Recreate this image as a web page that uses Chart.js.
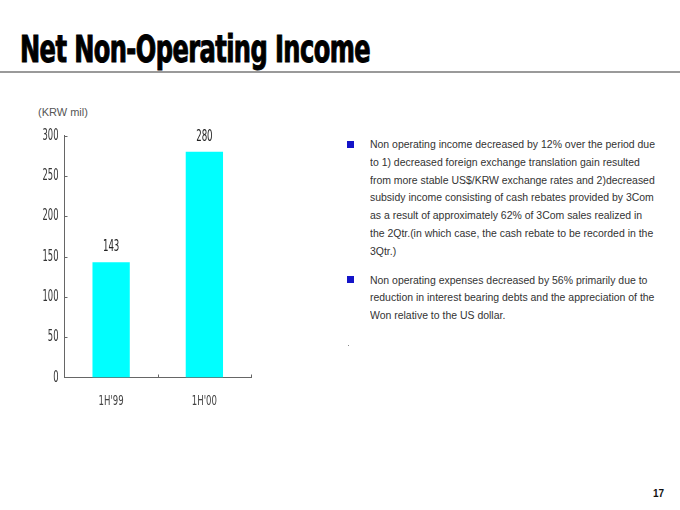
<!DOCTYPE html>
<html>
<head>
<meta charset="utf-8">
<script src="https://cdn.jsdelivr.net/npm/chart.js@4.4.0/dist/chart.umd.min.js"></script>
<style>
  html, body { margin: 0; padding: 0; background: #fff; }
  body { width: 680px; height: 510px; position: relative; overflow: hidden; font-family: 'Liberation Sans', Arial, sans-serif; }
  #title { position: absolute; left: 20px; top: 31px; font-family: 'DejaVu Sans Condensed', 'DejaVu Sans', sans-serif; font-weight: bold; font-size: 37px; line-height: 1; color: #000; white-space: nowrap; transform-origin: left top; letter-spacing: -0.8px; -webkit-text-stroke: 1px #000; }
  #rule { position: absolute; left: 0; top: 71px; width: 680px; height: 2px; background: #9a9a9a; }
  #unit { position: absolute; left: 38px; top: 105px; font-size: 11px; line-height: 14px; color: #555; }
  #chartBox { position: absolute; left: 0; top: 100px; width: 300px; height: 330px; }
  .para { position: absolute; left: 370px; font-size: 11px; line-height: 17.8px; color: #333; white-space: nowrap; transform-origin: left top; }
  .bullet { position: absolute; left: 347px; width: 7px; height: 7px; background: #1414c8; }
  #dot { position: absolute; left: 348px; top: 345px; width: 1px; height: 1px; background: #888; }
  #page { position: absolute; left: 653px; top: 488px; font-size: 10px; font-weight: bold; color: #111; }
</style>
</head>
<body>
<div id="title">Net Non-Operating Income</div>
<div id="rule"></div>
<div id="unit">(KRW mil)</div>
<div id="chartBox"><canvas id="incomeChart"></canvas></div>

<div class="bullet" style="top:141px"></div>
<div class="para" id="p1" style="top:136px">
  <div>Non operating income decreased by 12% over the period due</div>
  <div>to 1) decreased foreign exchange translation gain resulted</div>
  <div>from more stable US$/KRW exchange rates and 2)decreased</div>
  <div>subsidy income consisting of cash rebates provided by 3Com</div>
  <div>as a result of approximately 62% of 3Com sales realized in</div>
  <div>the 2Qtr.(in which case, the cash rebate to be recorded in the</div>
  <div>3Qtr.)</div>
</div>
<div class="bullet" style="top:276px"></div>
<div class="para" id="p2" style="top:271.5px">
  <div>Non operating expenses decreased by 56% primarily due to</div>
  <div>reduction in interest bearing debts and the appreciation of the</div>
  <div>Won relative to the US dollar.</div>
</div>
<div id="dot"></div>
<div id="page">17</div>

<script>
// Chart data
const periods = ["1H'99", "1H'00"];
const incomeValues = [143, 280];
const yTicks = [0, 50, 100, 150, 200, 250, 300];

const narrowFont = "'Liberation Sans Narrow', 'DejaVu Sans Condensed', sans-serif";

// squeeze title and paragraphs to the widths in the slide
function fitWidth(el, target) {
    const w = el.getBoundingClientRect().width;
    el.style.transform = 'scaleX(' + (target / w) + ')';
}
fitWidth(document.getElementById('title'), 350);
const firstLine = document.querySelector('#p1 div');
const lineScale = 285 / firstLine.getBoundingClientRect().width;
document.getElementById('p1').style.transform = 'scaleX(' + lineScale + ')';
document.getElementById('p2').style.transform = 'scaleX(' + lineScale + ')';

function squeezedText(ctx, text, x, y, sx) {
    ctx.save();
    ctx.translate(x, y);
    ctx.scale(sx, 1);
    ctx.fillText(text, 0, 0);
    ctx.restore();
}

// ticks point inward and labels use a narrow face, so draw them here
const axisDecor = {
    id: 'axisDecor',
    afterDraw(chart) {
        const ctx = chart.ctx;
        const xs = chart.scales.x;
        const ys = chart.scales.y;
        ctx.save();
        ctx.strokeStyle = '#666';
        ctx.lineWidth = 1;
        ctx.fillStyle = '#333';
        ctx.textBaseline = 'middle';

        // y axis
        ctx.font = '15px ' + narrowFont;
        ctx.textAlign = 'right';
        yTicks.forEach(v => {
            const py = Math.round(ys.getPixelForValue(v)) + 0.5;
            if (v > 0) {
                ctx.beginPath();
                ctx.moveTo(xs.left, py);
                ctx.lineTo(xs.left + 3, py);
                ctx.stroke();
            }
            squeezedText(ctx, String(v), xs.left - 6, py, 0.62);
        });

        // x axis
        ctx.textAlign = 'center';
        ctx.font = '14px ' + narrowFont;
        ctx.fillStyle = '#444';
        periods.forEach((p, i) => {
            const px = xs.getPixelForValue(i);
            squeezedText(ctx, p, px, ys.bottom + 24, 0.68);
            const edge = i < periods.length - 1 ? (px + xs.getPixelForValue(i + 1)) / 2 : xs.right;
            const ex = Math.round(edge) + 0.5;
            ctx.beginPath();
            ctx.moveTo(ex, ys.bottom);
            ctx.lineTo(ex, ys.bottom - 3);
            ctx.stroke();
        });

        // values above bars
        ctx.font = '16px ' + narrowFont;
        ctx.fillStyle = '#222';
        chart.getDatasetMeta(0).data.forEach((bar, i) => {
            squeezedText(ctx, String(incomeValues[i]), bar.x, bar.y - 15, 0.6);
        });
        ctx.restore();
    }
};

new Chart(document.getElementById('incomeChart'), {
    type: 'bar',
    data: {
        labels: periods,
        datasets: [{
            data: incomeValues,
            backgroundColor: '#00ffff',
            borderWidth: 0,
            categoryPercentage: 1,
            barPercentage: 0.4
        }]
    },
    options: {
        responsive: true,
        maintainAspectRatio: false,
        animation: false,
        layout: { padding: { left: 0, top: 35.5, right: 49, bottom: 0 } },
        scales: {
            x: {
                grid: { display: false },
                border: { display: true, color: '#666', width: 1 },
                ticks: { display: false },
                afterFit: s => { s.height = 52.5; }
            },
            y: {
                min: 0,
                max: 300,
                grid: { display: false },
                border: { display: true, color: '#666', width: 1 },
                ticks: { display: false, stepSize: 50 },
                afterFit: s => { s.width = 64.5; }
            }
        },
        plugins: {
            legend: { display: false },
            tooltip: { enabled: false }
        }
    },
    plugins: [axisDecor]
});
</script>
</body>
</html>
